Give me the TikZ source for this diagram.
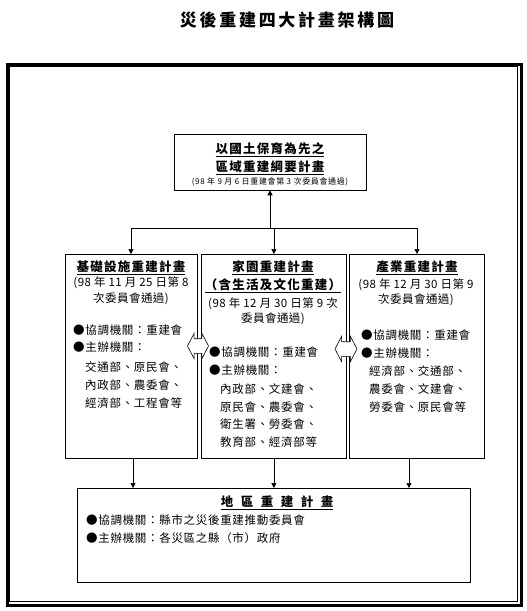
\documentclass[tikz,border=0pt]{standalone}
\usepackage{fontspec}
\setmainfont{Noto Sans CJK TC}
\usetikzlibrary{arrows.meta,shapes.arrows}
\newcommand{\fsz}[1]{\fontsize{#1pt}{#1pt}\selectfont}
\tikzset{
  box/.style={draw, line width=0.8pt, rectangle, inner sep=0pt, anchor=north west},
  txt/.style={inner sep=0pt, anchor=west, font=\fsz{11.5}\addfontfeatures{LetterSpace=6}},
  ctxt/.style={inner sep=0pt, anchor=center, font=\fsz{11.5}\addfontfeatures{LetterSpace=4}},
  ttl/.style={inner sep=0pt, anchor=center, font=\fsz{12.5}\bfseries\addfontfeatures{LetterSpace=10}},
  small/.style={inner sep=0pt, anchor=center, font=\fsz{8}\addfontfeatures{LetterSpace=8}},
  conn/.style={line width=0.7pt, -{Triangle[length=5pt,width=5pt]}},
  barr/.style={double arrow, draw, fill=white, line width=0.6pt, inner sep=0pt, inner ysep=7pt,
     minimum height=21pt, double arrow head extend=5.5pt, double arrow tip angle=125}
}
\begin{document}
\begin{tikzpicture}[x=1pt,y=-1pt]
\useasboundingbox (0,0) rectangle (527,611);
% title
\node[inner sep=0pt, font=\fsz{17}\bfseries\addfontfeatures{LetterSpace=16}] (title) at (287,20) {災後重建四大計畫架構圖};
% frame
\node[draw, line width=3pt, anchor=north west, minimum width=514pt, minimum height=541pt, inner sep=0pt] (frameout) at (5.5,62.5) {};
\node[draw, line width=0.8pt, anchor=north west, minimum width=508pt, minimum height=535pt, inner sep=0pt] (framein) at (8.5,65.5) {};
% top box
\node[box, minimum width=192pt, minimum height=56pt] (topbox) at (173.5,133.5) {};
\node[ttl] (t1) at (270,150) {\underline{以國土保育為先之}};
\node[ttl] (t2) at (270,168) {\underline{區域重建綱要計畫}};
\node[small] (t3) at (270,182) {(98 年 9 月 6 日重建會第 3 次委員會通過)};
% three boxes
\node[box, minimum width=132pt, minimum height=204pt] (lbox) at (65,254) {};
\node[box, minimum width=145pt, minimum height=204pt] (mbox) at (201,254) {};
\node[box, minimum width=135pt, minimum height=204pt] (rbox) at (349,254) {};
% left box text
\node[ttl] (l1) at (131,268) {\underline{基礎設施重建計畫}};
\node[ctxt] (l2) at (131,283) {(98 年 11 月 25 日第 8};
\node[ctxt] (l3) at (131,299) {次委員會通過)};
\node[txt] (l4) at (73,330) {●協調機關：重建會};
\node[txt] (l5) at (73,347) {●主辦機關：};
\node[txt] (l6) at (85,367) {交通部、原民會、};
\node[txt] (l7) at (85,385) {內政部、農委會、};
\node[txt] (l8) at (85,403) {經濟部、工程會等};
% middle box text
\node[ttl] (m1) at (273,268) {\underline{家園重建計畫}};
\node[ttl] (m2) at (273,286) {\underline{（含生活及文化重建）}};
\node[ctxt] (m3) at (273,304) {(98 年 12 月 30 日第 9 次};
\node[ctxt] (m4) at (273,319) {委員會通過)};
\node[txt] (m5) at (209,352) {●協調機關：重建會};
\node[txt] (m6) at (209,370) {●主辦機關：};
\node[txt] (m7) at (220,389) {內政部、文建會、};
\node[txt] (m8) at (220,407) {原民會、農委會、};
\node[txt] (m9) at (220,424) {衛生署、勞委會、};
\node[txt] (m10) at (220,442) {教育部、經濟部等};
% right box text
\node[ttl] (r1) at (417,268) {\underline{產業重建計畫}};
\node[ctxt] (r2) at (416,285) {(98 年 12 月 30 日第 9};
\node[ctxt] (r3) at (416,300) {次委員會通過)};
\node[txt] (r4) at (361,335) {●協調機關：重建會};
\node[txt] (r5) at (361,353) {●主辦機關：};
\node[txt] (r6) at (369,371) {經濟部、交通部、};
\node[txt] (r7) at (369,389) {農委會、文建會、};
\node[txt] (r8) at (369,407) {勞委會、原民會等};
% bottom box
\node[box, minimum width=393pt, minimum height=94pt] (bbox) at (77,488) {};
\node[ttl, font=\fsz{12.5}\bfseries\addfontfeatures{LetterSpace=60}] (b1) at (277,503) {\underline{地區重建計畫}};
\node[txt] (b2) at (86,520) {●協調機關：縣市之災後重建推動委員會};
\node[txt] (b3) at (86,538) {●主辦機關：各災區之縣（市）政府};
% connectors top
\coordinate (hub) at (270,228);
\coordinate (hl) at (131,228);
\coordinate (hr) at (417,228);
\draw[conn] (hub) -- (topbox.south -| hub);
\draw[line width=0.7pt] (hl) -- (hr);
\draw[conn] (hl) -- (lbox.north -| hl);
\draw[conn] (270,228) -| (mbox.north);
\draw[conn] (hr) -- (rbox.north -| hr);
% connectors bottom
\draw[conn] (lbox.south -| 133,0) -- (bbox.north -| 133,0);
\draw[conn] (mbox.south) -- (bbox.north -| mbox.south);
\draw[conn] (rbox.south -| 409,0) -- (bbox.north -| 409,0);
% block arrows
\node[barr] (ba1) at (198,346) {};
\node[barr, minimum height=22pt] (ba2) at (346,349) {};
\end{tikzpicture}
\end{document}
